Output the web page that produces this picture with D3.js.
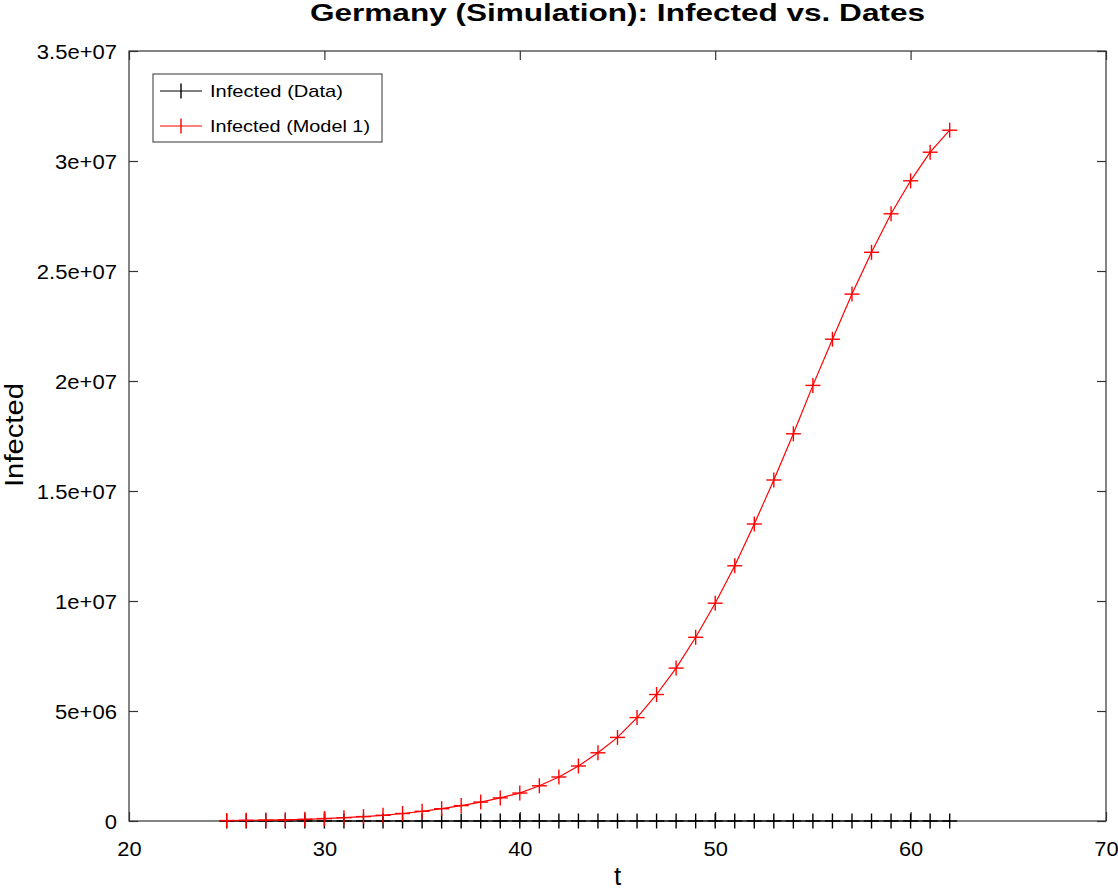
<!DOCTYPE html>
<html>
<head>
<meta charset="utf-8">
<script src="https://cdn.jsdelivr.net/npm/d3@7"></script>
<style>
  html, body { margin: 0; padding: 0; background: #fff; }
  svg { display: block; font-family: "Liberation Sans", Arial, sans-serif; }
</style>
</head>
<body>
<svg id="chart" width="1118" height="891"></svg>
<script>
const title = "Germany (Simulation): Infected vs. Dates";
const xLabel = "t";
const yLabel = "Infected";
const seriesNames = ["Infected (Data)", "Infected (Model 1)"];
const seriesColors = ["#000000", "#ff0000"];

const tValues = [25,26,27,28,29,30,31,32,33,34,35,36,37,38,39,40,41,42,43,44,45,46,47,48,49,50,51,52,53,54,55,56,57,58,59,60,61,62];
const dataInfected = [0,1,4,4,4,5,8,10,12,12,12,12,13,13,14,14,16,16,16,16,16,16,16,16,16,16,16,16,16,16,16,17,27,46,48,79,130,159];
const modelInfected = [20000,30000,40000,55000,75000,110000,150000,200000,260000,340000,440000,560000,700000,860000,1050000,1270000,1600000,2000000,2500000,3100000,3800000,4700000,5750000,6950000,8350000,9900000,11600000,13500000,15500000,17600000,19800000,21900000,23950000,25850000,27600000,29100000,30400000,31400000];

const xTicks = [20,30,40,50,60,70];
const yTicks = [0,5e6,1e7,1.5e7,2e7,2.5e7,3e7,3.5e7];
const yTickLabels = ["0","5e+06","1e+07","1.5e+07","2e+07","2.5e+07","3e+07","3.5e+07"];

(function () {
const svg = d3.select("#chart");
const pL = 129, pR = 1106, pT = 51, pB = 821;

const x = d3.scaleLinear().domain([20, 70]).range([pL, pR]);
const y = d3.scaleLinear().domain([0, 3.5e7]).range([pB, pT]);

function stretch(sel, factor) {
  sel.each(function () {
    const w = this.getComputedTextLength();
    d3.select(this).attr("textLength", w * factor).attr("lengthAdjust", "spacingAndGlyphs");
  });
}

svg.append("rect").attr("x", pL).attr("y", pT).attr("width", pR-pL).attr("height", pB-pT)
  .attr("fill", "none").attr("stroke", "#333").attr("stroke-width", 1.2);

const tickLen = 9;
const gB = svg.append("g").attr("transform", `translate(0,${pB})`)
  .call(d3.axisBottom(x).tickValues(xTicks).tickSize(-tickLen).tickFormat(d3.format("d")));
const gT = svg.append("g").attr("transform", `translate(0,${pT})`)
  .call(d3.axisTop(x).tickValues(xTicks).tickSize(-tickLen).tickFormat(""));
const gL = svg.append("g").attr("transform", `translate(${pL},0)`)
  .call(d3.axisLeft(y).tickValues(yTicks).tickSize(-tickLen).tickFormat((d,i) => yTickLabels[i]));
const gR = svg.append("g").attr("transform", `translate(${pR},0)`)
  .call(d3.axisRight(y).tickValues(yTicks).tickSize(-tickLen).tickFormat(""));

[gB, gT, gL, gR].forEach(g => {
  g.select(".domain").remove();
  g.selectAll(".tick line").attr("stroke", "#333").attr("stroke-width", 1.2);
  g.selectAll(".tick text").attr("font-family", "Liberation Sans, Arial, sans-serif")
    .attr("font-size", 19.5).attr("fill", "#000");
});
gB.selectAll(".tick text").attr("dy", null).attr("y", 35);
gL.selectAll(".tick text").attr("x", -12).attr("dy", null).attr("y", 0)
  .attr("transform", "translate(0,7)");
stretch(gB.selectAll(".tick text"), 1.12);
stretch(gL.selectAll(".tick text"), 1.13);

const tt = svg.append("text").attr("x", (pL+pR)/2).attr("y", 21).attr("text-anchor", "middle")
  .attr("font-size", 23.5).attr("font-weight", "bold").text(title);
tt.attr("textLength", 615).attr("lengthAdjust", "spacingAndGlyphs");

svg.append("text").attr("x", (pL+pR)/2).attr("y", 885).attr("text-anchor", "middle")
  .attr("font-size", 26).text(xLabel);
svg.append("text").attr("transform", `translate(23,${(383+487)/2}) rotate(-90)`)
  .attr("text-anchor", "middle").attr("font-size", 25).text(yLabel)
  .attr("textLength", 104).attr("lengthAdjust", "spacingAndGlyphs");

const series = [dataInfected, modelInfected];
const line = d3.line().x((d,i) => x(tValues[i])).y(d => y(d));
const ms = 7.5;
series.forEach((vals, si) => {
  const g = svg.append("g");
  g.append("path").datum(vals).attr("d", line).attr("fill", "none")
    .attr("stroke", seriesColors[si]).attr("stroke-width", 1.2);
  const m = g.selectAll("g.m").data(vals).join("g").attr("class", "m")
    .attr("transform", (d,i) => `translate(${x(tValues[i])},${y(d)})`);
  m.append("line").attr("x1", -ms).attr("x2", ms).attr("stroke", seriesColors[si]).attr("stroke-width", 1.4);
  m.append("line").attr("y1", -ms).attr("y2", ms).attr("stroke", seriesColors[si]).attr("stroke-width", 1.4);
});

const lg = svg.append("g");
lg.append("rect").attr("x", 153).attr("y", 74).attr("width", 229).attr("height", 68)
  .attr("fill", "#fff").attr("stroke", "#333").attr("stroke-width", 1);
const legendWidths = [133, 160];
seriesNames.forEach((name, i) => {
  const cy = 91 + i*35;
  lg.append("line").attr("x1", 160).attr("x2", 202).attr("y1", cy).attr("y2", cy)
    .attr("stroke", seriesColors[i]).attr("stroke-width", 1.2);
  lg.append("line").attr("x1", 181).attr("x2", 181).attr("y1", cy-ms).attr("y2", cy+ms)
    .attr("stroke", seriesColors[i]).attr("stroke-width", 1.4);
  lg.append("text").attr("x", 210).attr("y", cy + 6)
    .attr("font-size", 17).text(name)
    .attr("textLength", legendWidths[i]).attr("lengthAdjust", "spacingAndGlyphs");
});
})();
</script>
</body>
</html>
